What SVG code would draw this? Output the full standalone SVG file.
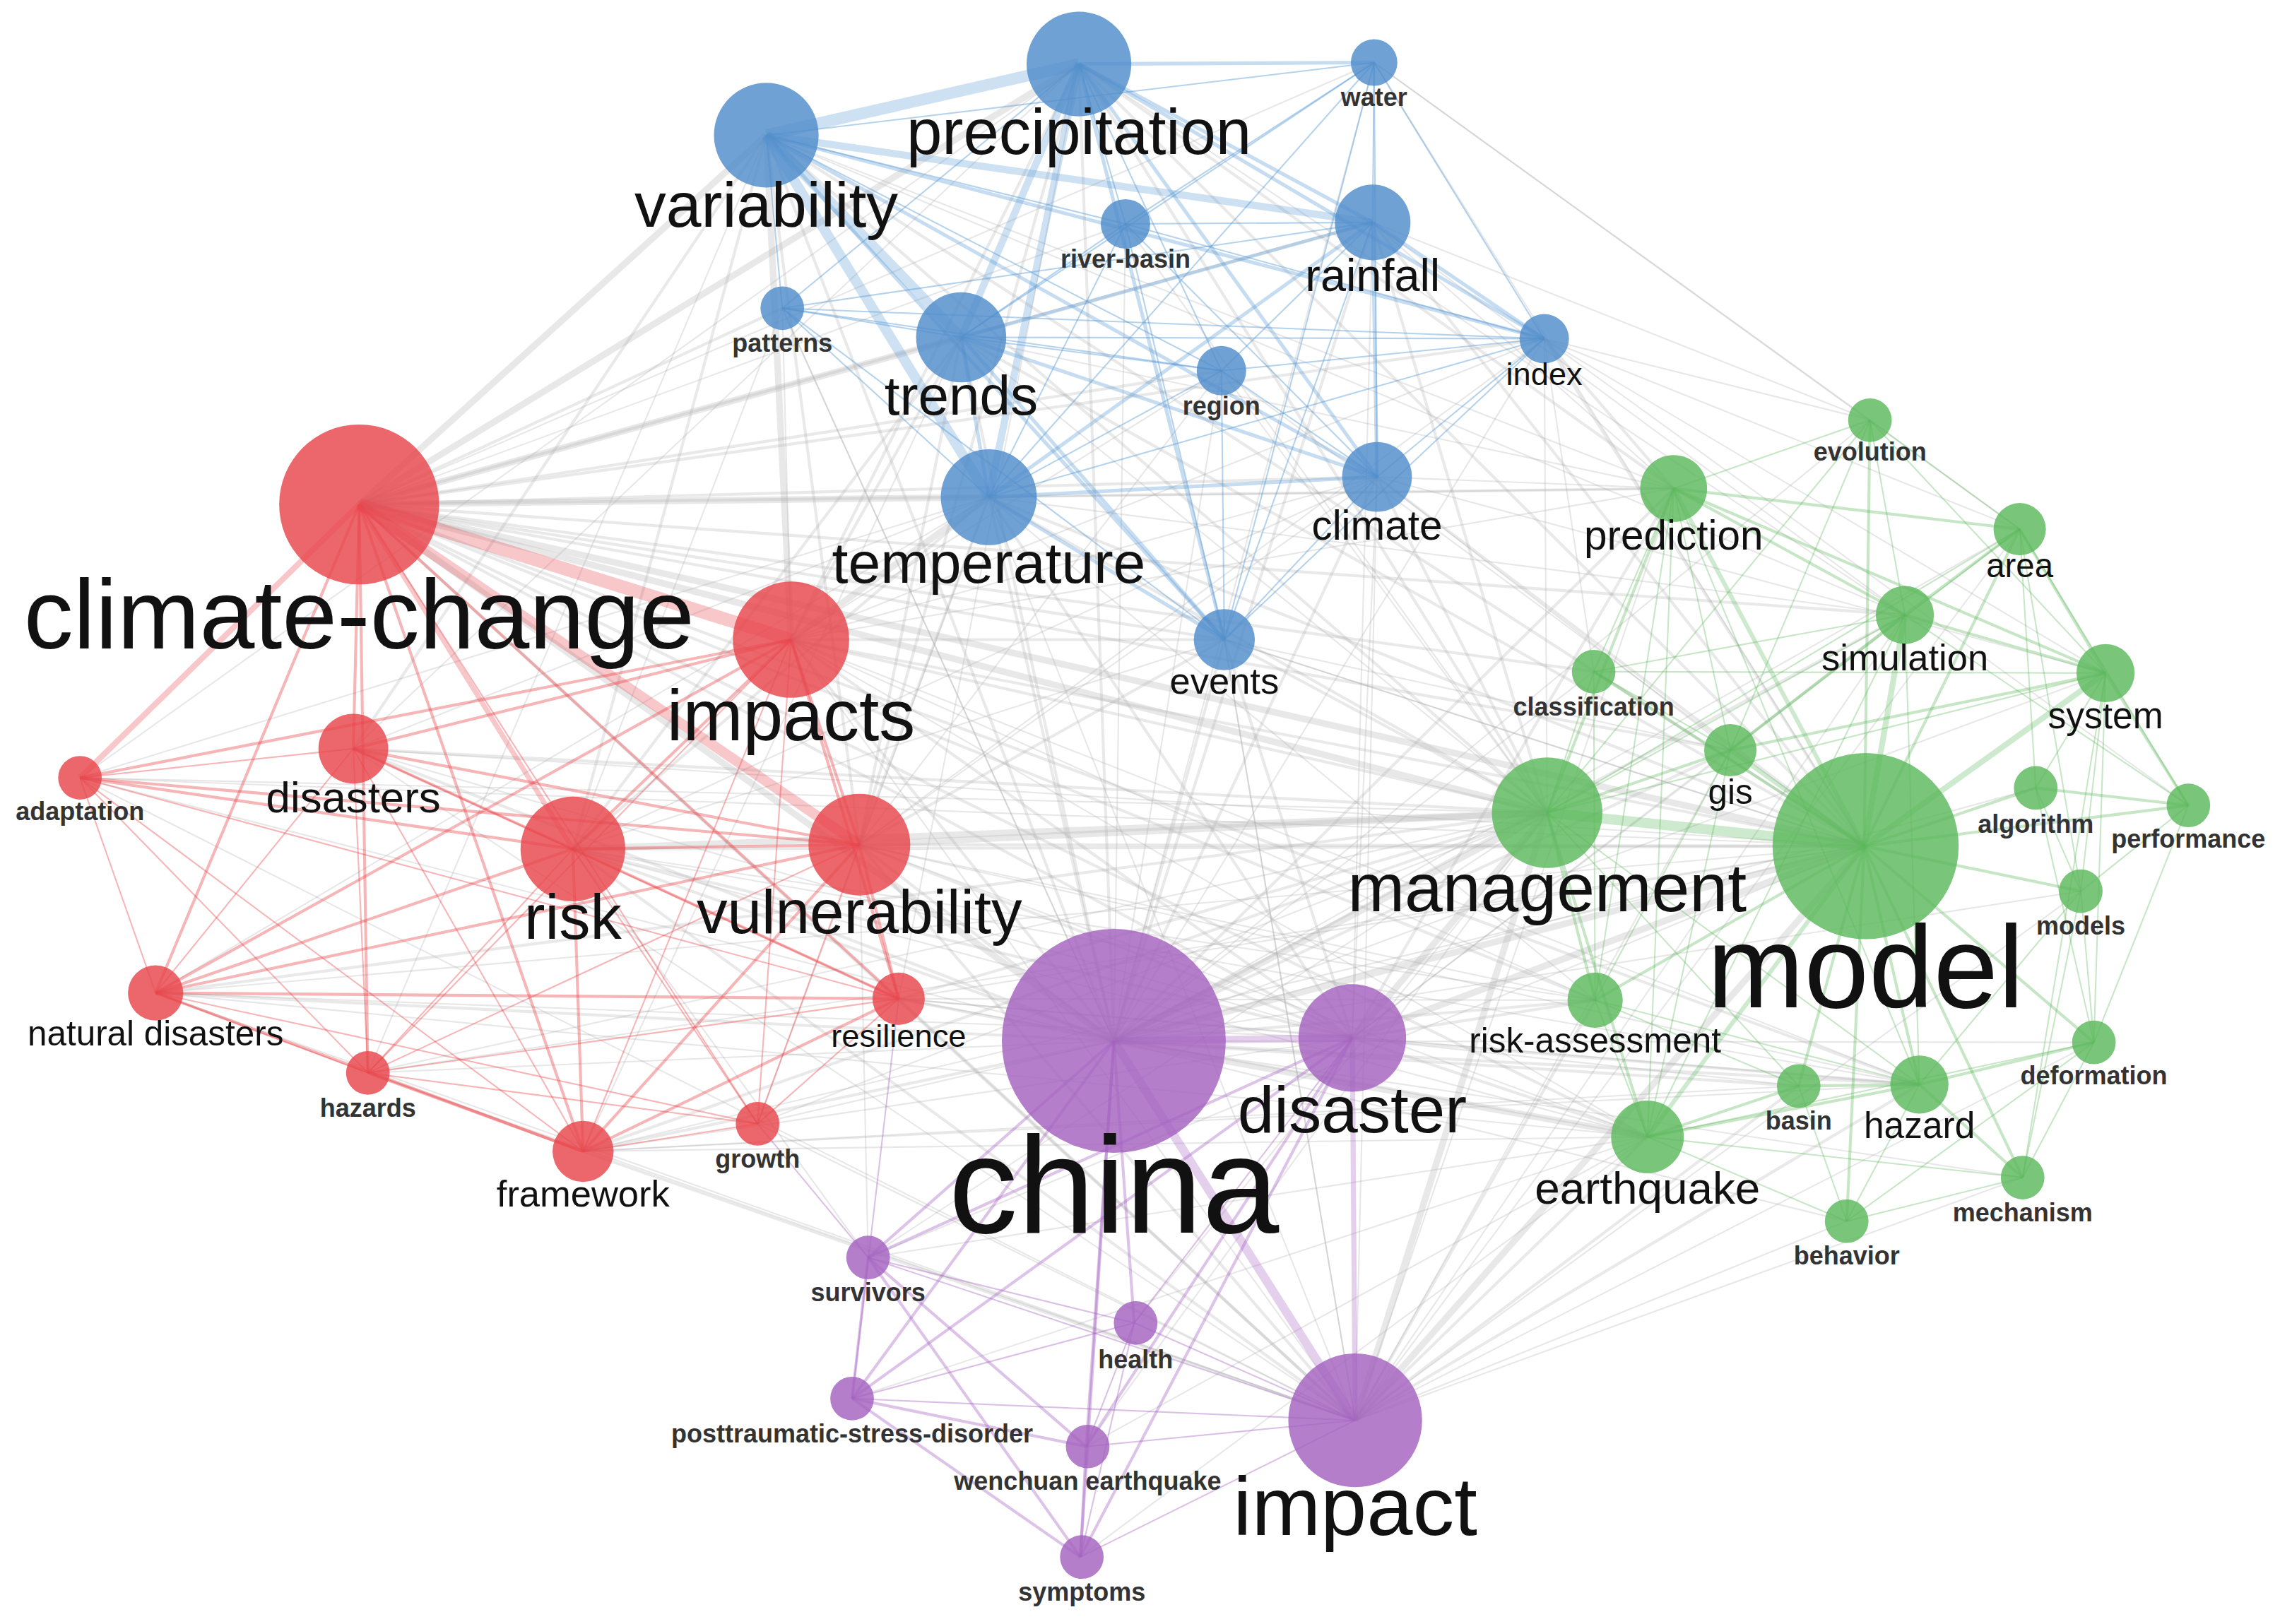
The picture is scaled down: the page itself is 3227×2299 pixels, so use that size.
<svg xmlns="http://www.w3.org/2000/svg" width="3227" height="2299" viewBox="0 0 3227 2299">
<style>
.e path{fill:none}
.gy1{stroke:#aaaaaa;stroke-width:1;stroke-opacity:.28}
.gy2{stroke:#aaaaaa;stroke-width:2;stroke-opacity:.26}
.gy3{stroke:#b4b4b4;stroke-width:4.5;stroke-opacity:.3}
.bl1{stroke:#5b9bd5;stroke-width:1;stroke-opacity:.45}
.bl2{stroke:#5b9bd5;stroke-width:2.5;stroke-opacity:.35}
.bl3{stroke:#5b9bd5;stroke-width:5;stroke-opacity:.3}
.rd1{stroke:#e8454c;stroke-width:1;stroke-opacity:.4}
.rd2{stroke:#e8454c;stroke-width:2;stroke-opacity:.4}
.rd3{stroke:#e8454c;stroke-width:5;stroke-opacity:.3}
.gr1{stroke:#5cb85c;stroke-width:1;stroke-opacity:.35}
.gr2{stroke:#5cb85c;stroke-width:2;stroke-opacity:.35}
.gr3{stroke:#5cb85c;stroke-width:4;stroke-opacity:.3}
.pu1{stroke:#a461c0;stroke-width:1;stroke-opacity:.4}
.pu2{stroke:#a461c0;stroke-width:2;stroke-opacity:.38}
.pu3{stroke:#a461c0;stroke-width:5;stroke-opacity:.3}
circle{fill-opacity:.82}
.b{fill:#4f8ccb}.r{fill:#e8454c}.g{fill:#5cb85c}.p{fill:#a461c0}
text{font-family:"Liberation Sans",Arial,sans-serif;text-anchor:middle;fill:#111}
.s{font-size:17.5px;font-weight:bold;fill:#333}
</style>
<rect width="3227" height="2299" fill="#ffffff"/>
<g transform="scale(2.05804)">
<g id="connectors" class="e">
<g class="gy1">
<path d="M766 716L1389 364"/><path d="M766 716L1448 463"/><path d="M766 716L1096 462"/><path d="M766 716L1286 289"/><path d="M766 716L1270 840"/><path d="M766 716L1391 810"/><path d="M766 716L1440 717"/><path d="M766 716L1431 613"/><path d="M766 716L1400 542"/><path d="M766 716L521 773"/><path d="M766 716L253 738"/><path d="M766 716L55 535"/><path d="M766 716L840 255"/><path d="M766 716L1062 233"/><path d="M766 716L538 212"/>
<path d="M930 714L1310 423"/><path d="M930 714L1237 747"/><path d="M930 714L1190 516"/><path d="M930 714L618 687"/><path d="M930 714L401 792"/><path d="M930 714L107 683"/><path d="M930 714L243 515"/><path d="M930 714L944 153"/><path d="M930 714L947 328"/>
<path d="M932 977L1151 336"/><path d="M932 977L1310 423"/><path d="M932 977L1270 840"/><path d="M932 977L1391 810"/><path d="M932 977L521 773"/><path d="M932 977L107 683"/><path d="M932 977L253 738"/><path d="M932 977L55 535"/><path d="M932 977L243 515"/><path d="M932 977L544 440"/><path d="M932 977L680 342"/><path d="M932 977L842 440"/><path d="M932 977L1190 516"/><path d="M932 977L1440 717"/><path d="M932 977L1431 613"/><path d="M932 977L1389 364"/>
<path d="M1064 559L521 773"/><path d="M1064 559L253 738"/><path d="M1064 559L55 535"/><path d="M1064 559L661 232"/><path d="M1064 559L840 255"/><path d="M1064 559L1062 233"/>
<path d="M1282 582L401 792"/><path d="M1282 582L618 687"/><path d="M1282 582L107 683"/><path d="M1282 582L243 515"/><path d="M1282 582L842 440"/><path d="M1282 582L840 255"/><path d="M1282 582L597 865"/><path d="M1282 582L253 738"/><path d="M1282 582L55 535"/>
<path d="M1133 782L597 865"/><path d="M1133 782L586 962"/><path d="M1133 782L747 995"/><path d="M1133 782L401 792"/><path d="M1133 782L618 687"/><path d="M1133 782L591 581"/><path d="M1133 782L394 584"/><path d="M1133 782L544 440"/><path d="M1133 782L107 683"/><path d="M1133 782L743 1071"/>
<path d="M1097 688L591 581"/><path d="M1097 688L394 584"/><path d="M1097 688L544 440"/><path d="M1097 688L680 342"/><path d="M1097 688L618 687"/>
<path d="M1320 746L591 581"/><path d="M1320 746L394 584"/><path d="M1320 746L544 440"/><path d="M1320 746L401 792"/><path d="M1320 746L618 687"/><path d="M1237 747L401 792"/>
<path d="M1151 336L680 342"/><path d="M1151 336L661 232"/><path d="M1151 336L527 93"/><path d="M1151 336L944 153"/><path d="M1151 336L947 328"/><path d="M1151 336L544 440"/>
<path d="M1310 423L680 342"/><path d="M1310 423L742 44"/><path d="M1310 423L527 93"/><path d="M1310 423L944 153"/>
<path d="M1286 289L1062 233"/><path d="M1286 289L945 43"/><path d="M1286 289L944 153"/><path d="M1389 364L1062 233"/><path d="M1389 364L945 43"/><path d="M1448 463L1062 233"/><path d="M1448 463L947 328"/><path d="M1190 516L947 328"/><path d="M1190 516L842 440"/><path d="M1096 462L1062 233"/><path d="M1505 554L1062 233"/>
<path d="M945 43L247 347"/><path d="M945 43L766 716"/><path d="M945 43L1282 582"/><path d="M774 154L766 716"/><path d="M774 154L247 347"/><path d="M774 154L1064 559"/>
<path d="M538 212L766 716"/><path d="M538 212L544 440"/><path d="M538 212L394 584"/><path d="M840 255L544 440"/><path d="M840 255L591 581"/><path d="M1062 233L544 440"/><path d="M1062 233L591 581"/>
<path d="M947 328L544 440"/><path d="M947 328L591 581"/><path d="M947 328L394 584"/><path d="M947 328L932 977"/><path d="M842 440L394 584"/><path d="M842 440L932 977"/><path d="M842 440L1282 582"/>
<path d="M597 865L1064 559"/><path d="M597 865L394 584"/><path d="M597 865L591 581"/><path d="M780 910L1064 559"/><path d="M747 995L1064 559"/>
<path d="M55 535L680 342"/><path d="M55 535L742 44"/><path d="M243 515L680 342"/><path d="M243 515L742 44"/><path d="M107 683L680 342"/><path d="M253 738L527 93"/><path d="M401 792L661 232"/><path d="M521 773L680 342"/><path d="M618 687L742 44"/>
</g>
<g class="gy2">
<path d="M247 347L944 153"/><path d="M247 347L947 328"/><path d="M247 347L842 440"/><path d="M247 347L538 212"/><path d="M247 347L840 255"/><path d="M247 347L1062 233"/><path d="M247 347L930 714"/><path d="M247 347L932 977"/><path d="M247 347L1151 336"/><path d="M247 347L1310 423"/><path d="M247 347L1133 782"/><path d="M247 347L1097 688"/><path d="M247 347L1320 746"/><path d="M247 347L1190 516"/><path d="M247 347L1096 462"/>
<path d="M527 93L766 716"/><path d="M527 93L394 584"/><path d="M527 93L591 581"/><path d="M527 93L243 515"/><path d="M527 93L1282 582"/><path d="M527 93L1064 559"/>
<path d="M742 44L766 716"/><path d="M742 44L544 440"/><path d="M742 44L591 581"/><path d="M742 44L1064 559"/><path d="M742 44L1282 582"/><path d="M742 44L1151 336"/>
<path d="M661 232L766 716"/><path d="M661 232L544 440"/><path d="M661 232L591 581"/><path d="M661 232L394 584"/><path d="M661 232L1282 582"/>
<path d="M680 342L766 716"/><path d="M680 342L591 581"/><path d="M680 342L394 584"/><path d="M680 342L1282 582"/><path d="M680 342L1064 559"/><path d="M680 342L930 714"/>
<path d="M944 153L766 716"/><path d="M944 153L1064 559"/><path d="M944 153L1282 582"/><path d="M947 328L766 716"/><path d="M947 328L1282 582"/><path d="M947 328L1064 559"/>
<path d="M842 440L766 716"/><path d="M842 440L544 440"/><path d="M842 440L591 581"/><path d="M842 440L1064 559"/><path d="M842 440L930 714"/><path d="M1062 233L1282 582"/><path d="M1062 233L1151 336"/>
<path d="M544 440L766 716"/><path d="M544 440L930 714"/><path d="M544 440L1282 582"/><path d="M544 440L1064 559"/>
<path d="M591 581L766 716"/><path d="M591 581L930 714"/><path d="M591 581L932 977"/><path d="M591 581L1282 582"/>
<path d="M394 584L766 716"/><path d="M394 584L930 714"/><path d="M394 584L932 977"/><path d="M394 584L1282 582"/>
<path d="M243 515L766 716"/><path d="M243 515L1064 559"/>
<path d="M766 716L1097 688"/><path d="M766 716L1320 746"/><path d="M766 716L1151 336"/><path d="M766 716L1310 423"/><path d="M766 716L1190 516"/><path d="M766 716L1237 747"/><path d="M766 716L618 687"/><path d="M766 716L401 792"/><path d="M766 716L107 683"/>
<path d="M930 714L1097 688"/><path d="M930 714L1133 782"/><path d="M930 714L1320 746"/><path d="M930 714L1151 336"/>
<path d="M932 977L1133 782"/><path d="M932 977L1097 688"/><path d="M932 977L1320 746"/><path d="M932 977L1237 747"/><path d="M932 977L618 687"/><path d="M932 977L401 792"/>
<path d="M1064 559L618 687"/><path d="M1064 559L401 792"/><path d="M1064 559L107 683"/>
</g>
<g class="gy3">
<path d="M247 347L527 93"/><path d="M247 347L661 232"/><path d="M247 347L680 342"/><path d="M247 347L766 716"/><path d="M247 347L1064 559"/><path d="M247 347L1282 582"/><path d="M247 347L742 44"/>
<path d="M766 716L1064 559"/><path d="M766 716L1282 582"/><path d="M932 977L1064 559"/><path d="M932 977L1282 582"/><path d="M766 716L1133 782"/>
<path d="M930 714L1064 559"/><path d="M930 714L1282 582"/><path d="M591 581L1064 559"/><path d="M394 584L1064 559"/><path d="M680 342L544 440"/><path d="M527 93L544 440"/>
</g>
<g class="bl1">
<path d="M527 93L945 43"/><path d="M527 93L774 154"/><path d="M527 93L538 212"/><path d="M527 93L840 255"/><path d="M742 44L774 154"/><path d="M742 44L538 212"/><path d="M742 44L840 255"/>
<path d="M945 43L944 153"/><path d="M945 43L1062 233"/><path d="M945 43L947 328"/><path d="M945 43L661 232"/><path d="M945 43L680 342"/><path d="M945 43L774 154"/><path d="M945 43L842 440"/>
<path d="M774 154L944 153"/><path d="M774 154L661 232"/><path d="M774 154L680 342"/><path d="M774 154L947 328"/><path d="M774 154L842 440"/><path d="M774 154L1062 233"/>
<path d="M944 153L840 255"/><path d="M944 153L538 212"/><path d="M944 153L842 440"/>
<path d="M538 212L661 232"/><path d="M538 212L680 342"/><path d="M538 212L840 255"/><path d="M538 212L1062 233"/><path d="M538 212L842 440"/>
<path d="M661 232L840 255"/><path d="M661 232L1062 233"/><path d="M840 255L680 342"/><path d="M840 255L947 328"/><path d="M840 255L1062 233"/><path d="M840 255L842 440"/>
<path d="M1062 233L680 342"/><path d="M1062 233L947 328"/><path d="M1062 233L842 440"/><path d="M947 328L842 440"/>
</g>
<g class="bl2">
<path d="M742 44L944 153"/><path d="M661 232L680 342"/><path d="M742 44L945 43"/><path d="M661 232L944 153"/><path d="M680 342L944 153"/><path d="M742 44L947 328"/><path d="M680 342L947 328"/><path d="M680 342L842 440"/><path d="M742 44L842 440"/><path d="M527 93L842 440"/><path d="M944 153L1062 233"/><path d="M527 93L947 328"/><path d="M661 232L947 328"/><path d="M944 153L947 328"/><path d="M661 232L842 440"/><path d="M527 93L1062 233"/><path d="M742 44L1062 233"/>
</g>
<g class="bl3">
<path d="M527 93L742 44" style="stroke-width:8"/><path d="M527 93L661 232" style="stroke-width:7"/><path d="M527 93L680 342" style="stroke-width:7"/><path d="M527 93L944 153"/><path d="M742 44L661 232"/><path d="M742 44L680 342"/>
</g>
<g class="rd1">
<path d="M247 347L521 773"/><path d="M55 535L243 515"/><path d="M55 535L107 683"/><path d="M55 535L253 738"/><path d="M55 535L401 792"/><path d="M243 515L107 683"/><path d="M243 515L253 738"/><path d="M243 515L401 792"/><path d="M243 515L618 687"/>
<path d="M394 584L253 738"/><path d="M394 584L521 773"/><path d="M591 581L253 738"/><path d="M591 581L521 773"/><path d="M544 440L253 738"/><path d="M544 440L401 792"/><path d="M544 440L521 773"/>
<path d="M107 683L253 738"/><path d="M107 683L521 773"/><path d="M253 738L618 687"/><path d="M521 773L618 687"/><path d="M521 773L401 792"/><path d="M253 738L521 773"/><path d="M55 535L618 687"/>
</g>
<g class="rd2">
<path d="M544 440L591 581"/><path d="M544 440L394 584"/><path d="M394 584L591 581"/><path d="M247 347L243 515"/><path d="M247 347L107 683"/><path d="M247 347L401 792"/><path d="M247 347L618 687"/><path d="M247 347L253 738"/>
<path d="M243 515L394 584"/><path d="M243 515L591 581"/><path d="M243 515L544 440"/><path d="M55 535L394 584"/><path d="M55 535L591 581"/><path d="M55 535L544 440"/>
<path d="M107 683L394 584"/><path d="M107 683L591 581"/><path d="M107 683L544 440"/><path d="M394 584L401 792"/><path d="M591 581L401 792"/><path d="M591 581L618 687"/><path d="M394 584L618 687"/>
<path d="M107 683L401 792"/><path d="M253 738L401 792"/><path d="M107 683L618 687"/><path d="M544 440L618 687"/><path d="M401 792L618 687"/>
</g>
<g class="rd3">
<path d="M247 347L544 440" style="stroke-width:9"/><path d="M247 347L591 581" style="stroke-width:7"/><path d="M247 347L55 535" style="stroke-width:4"/><path d="M247 347L394 584" style="stroke-width:3.5"/>
</g>
<g class="pu1">
<path d="M780 910L597 865"/><path d="M780 910L586 962"/><path d="M780 910L747 995"/><path d="M780 910L932 977"/><path d="M780 910L930 714"/><path d="M932 977L586 962"/><path d="M932 977L597 865"/><path d="M932 977L747 995"/><path d="M932 977L743 1071"/><path d="M780 910L743 1071"/><path d="M597 865L521 773"/><path d="M586 962L618 687"/>
</g>
<g class="pu2">
<path d="M766 716L597 865"/><path d="M766 716L747 995"/><path d="M766 716L780 910"/><path d="M766 716L743 1071"/><path d="M766 716L586 962"/><path d="M930 714L597 865"/><path d="M930 714L586 962"/><path d="M930 714L747 995"/><path d="M930 714L743 1071"/>
<path d="M597 865L586 962"/><path d="M597 865L743 1071"/><path d="M586 962L743 1071"/><path d="M586 962L747 995"/><path d="M747 995L743 1071"/><path d="M597 865L747 995"/>
</g>
<g class="pu3">
<path d="M766 716L930 714"/><path d="M766 716L932 977" style="stroke-width:6"/><path d="M930 714L932 977" style="stroke-width:3.5"/>
</g>
<g class="gr1">
<path d="M1286 289L1151 336"/><path d="M1286 289L1389 364"/><path d="M1286 289L1310 423"/><path d="M1286 289L1448 463"/><path d="M1286 289L1190 516"/><path d="M1286 289L1064 559"/>
<path d="M1151 336L1096 462"/><path d="M1151 336L1190 516"/><path d="M1151 336L1133 782"/><path d="M1151 336L1097 688"/><path d="M1151 336L1320 746"/>
<path d="M1389 364L1400 542"/><path d="M1389 364L1431 613"/><path d="M1389 364L1190 516"/><path d="M1389 364L1064 559"/>
<path d="M1310 423L1096 462"/><path d="M1310 423L1064 559"/><path d="M1310 423L1133 782"/><path d="M1310 423L1320 746"/>
<path d="M1096 462L1190 516"/><path d="M1096 462L1064 559"/><path d="M1096 462L1097 688"/><path d="M1096 462L1448 463"/>
<path d="M1448 463L1400 542"/><path d="M1448 463L1431 613"/><path d="M1448 463L1440 717"/><path d="M1448 463L1064 559"/>
<path d="M1190 516L1097 688"/><path d="M1190 516L1133 782"/><path d="M1064 559L1320 746"/><path d="M1064 559L1237 747"/>
<path d="M1400 542L1431 613"/><path d="M1400 542L1440 717"/><path d="M1505 554L1431 613"/><path d="M1505 554L1440 717"/><path d="M1431 613L1440 717"/><path d="M1431 613L1391 810"/><path d="M1431 613L1320 746"/>
<path d="M1097 688L1133 782"/><path d="M1097 688L1320 746"/><path d="M1097 688L1237 747"/><path d="M1440 717L1391 810"/><path d="M1440 717L1270 840"/>
<path d="M1237 747L1270 840"/><path d="M1320 746L1270 840"/><path d="M1391 810L1270 840"/><path d="M1133 782L1391 810"/><path d="M1133 782L1270 840"/><path d="M1391 810L1448 463"/><path d="M1133 782L1440 717"/><path d="M1505 554L1310 423"/><path d="M1505 554L1389 364"/>
</g>
<g class="gr2">
<path d="M1064 559L1190 516"/><path d="M1282 582L1389 364"/><path d="M1282 582L1400 542"/><path d="M1282 582L1505 554"/><path d="M1282 582L1431 613"/><path d="M1282 582L1320 746"/><path d="M1282 582L1237 747"/><path d="M1282 582L1097 688"/><path d="M1282 582L1440 717"/><path d="M1282 582L1096 462"/><path d="M1282 582L1286 289"/><path d="M1282 582L1391 810"/><path d="M1282 582L1270 840"/>
<path d="M1064 559L1151 336"/><path d="M1064 559L1097 688"/><path d="M1064 559L1133 782"/><path d="M1151 336L1389 364"/><path d="M1151 336L1310 423"/><path d="M1151 336L1448 463"/><path d="M1310 423L1389 364"/><path d="M1310 423L1448 463"/><path d="M1389 364L1448 463"/><path d="M1190 516L1448 463"/><path d="M1190 516L1310 423"/>
<path d="M1133 782L1320 746"/><path d="M1133 782L1237 747"/><path d="M1320 746L1237 747"/><path d="M1320 746L1440 717"/><path d="M1320 746L1391 810"/><path d="M1448 463L1505 554"/><path d="M1400 542L1505 554"/>
</g>
<g class="gr3">
<path d="M1064 559L1282 582" style="stroke-width:7"/><path d="M1282 582L1310 423"/><path d="M1282 582L1448 463"/><path d="M1282 582L1151 336" style="stroke-width:3"/><path d="M1282 582L1190 516" style="stroke-width:3"/><path d="M1282 582L1133 782" style="stroke-width:3"/>
</g>
</g>
<g id="nodes">
<g id="node-china"><circle class="p" cx="766" cy="716" r="77"/><text x="766" y="848" style="font-size:95px">china</text></g>
<g id="node-disaster"><circle class="p" cx="930" cy="714" r="37"/><text x="930" y="779" style="font-size:45px">disaster</text></g>
<g id="node-survivors"><circle class="p" cx="597" cy="865" r="15"/><text class="s" x="597" y="895">survivors</text></g>
<g id="node-health"><circle class="p" cx="781" cy="910" r="15"/><text class="s" x="781" y="941">health</text></g>
<g id="node-posttraumatic-stress-disorder"><circle class="p" cx="586" cy="962" r="15"/><text class="s" x="586" y="992">posttraumatic-stress-disorder</text></g>
<g id="node-wenchuan-earthquake"><circle class="p" cx="748" cy="995" r="15"/><text class="s" x="748" y="1025">wenchuan earthquake</text></g>
<g id="node-impact"><circle class="p" cx="932" cy="977" r="46"/><text x="932" y="1056" style="font-size:57px">impact</text></g>
<g id="node-symptoms"><circle class="p" cx="744" cy="1071" r="15"/><text class="s" x="744" y="1101">symptoms</text></g>
<g id="node-evolution"><circle class="g" cx="1286" cy="289" r="15"/><text class="s" x="1286" y="317">evolution</text></g>
<g id="node-prediction"><circle class="g" cx="1151" cy="336" r="23"/><text x="1151" y="378" style="font-size:28.4px">prediction</text></g>
<g id="node-area"><circle class="g" cx="1389" cy="364" r="18"/><text x="1389" y="397" style="font-size:23px">area</text></g>
<g id="node-simulation"><circle class="g" cx="1310" cy="423" r="20"/><text x="1310" y="461" style="font-size:25.5px">simulation</text></g>
<g id="node-classification"><circle class="g" cx="1096" cy="462" r="15"/><text class="s" x="1096" y="492">classification</text></g>
<g id="node-system"><circle class="g" cx="1448" cy="463" r="20"/><text x="1448" y="501" style="font-size:25px">system</text></g>
<g id="node-gis"><circle class="g" cx="1190" cy="516" r="18"/><text x="1190" y="553" style="font-size:24px">gis</text></g>
<g id="node-management"><circle class="g" cx="1064" cy="559" r="38"/><text x="1064" y="627" style="font-size:47px">management</text></g>
<g id="node-model"><circle class="g" cx="1283" cy="582" r="64"/><text x="1283" y="693" style="font-size:80px">model</text></g>
<g id="node-algorithm"><circle class="g" cx="1400" cy="542" r="15"/><text class="s" x="1400" y="573">algorithm</text></g>
<g id="node-performance"><circle class="g" cx="1505" cy="554" r="15"/><text class="s" x="1505" y="583">performance</text></g>
<g id="node-models"><circle class="g" cx="1431" cy="613" r="15"/><text class="s" x="1431" y="643">models</text></g>
<g id="node-risk-assessment"><circle class="g" cx="1097" cy="688" r="19"/><text x="1097" y="724" style="font-size:24px">risk-assessment</text></g>
<g id="node-deformation"><circle class="g" cx="1440" cy="717" r="15"/><text class="s" x="1440" y="746">deformation</text></g>
<g id="node-basin"><circle class="g" cx="1237" cy="747" r="15"/><text class="s" x="1237" y="777">basin</text></g>
<g id="node-hazard"><circle class="g" cx="1320" cy="746" r="20"/><text x="1320" y="783" style="font-size:25px">hazard</text></g>
<g id="node-earthquake"><circle class="g" cx="1133" cy="782" r="25"/><text x="1133" y="828" style="font-size:31px">earthquake</text></g>
<g id="node-mechanism"><circle class="g" cx="1391" cy="810" r="15"/><text class="s" x="1391" y="840">mechanism</text></g>
<g id="node-behavior"><circle class="g" cx="1270" cy="840" r="15"/><text class="s" x="1270" y="870">behavior</text></g>
<g id="node-climate-change"><circle class="r" cx="247" cy="347" r="55"/><text x="247" y="446" style="font-size:68px">climate-change</text></g>
<g id="node-impacts"><circle class="r" cx="544" cy="440" r="40"/><text x="544" y="509" style="font-size:49.6px">impacts</text></g>
<g id="node-disasters"><circle class="r" cx="243" cy="515" r="24"/><text x="243" y="559" style="font-size:30px">disasters</text></g>
<g id="node-adaptation"><circle class="r" cx="55" cy="535" r="15"/><text class="s" x="55" y="564">adaptation</text></g>
<g id="node-risk"><circle class="r" cx="394" cy="584" r="36"/><text x="394" y="646" style="font-size:43px">risk</text></g>
<g id="node-vulnerability"><circle class="r" cx="591" cy="581" r="35"/><text x="591" y="642" style="font-size:42.4px">vulnerability</text></g>
<g id="node-natural-disasters"><circle class="r" cx="107" cy="683" r="19"/><text x="107" y="719" style="font-size:24px">natural disasters</text></g>
<g id="node-resilience"><circle class="r" cx="618" cy="687" r="18"/><text x="618" y="720" style="font-size:22px">resilience</text></g>
<g id="node-hazards"><circle class="r" cx="253" cy="738" r="15"/><text class="s" x="253" y="768">hazards</text></g>
<g id="node-growth"><circle class="r" cx="521" cy="773" r="15"/><text class="s" x="521" y="803">growth</text></g>
<g id="node-framework"><circle class="r" cx="401" cy="792" r="21"/><text x="401" y="830" style="font-size:25.5px">framework</text></g>
<g id="node-precipitation"><circle class="b" cx="742" cy="44" r="36"/><text x="742" y="106" style="font-size:44px">precipitation</text></g>
<g id="node-variability"><circle class="b" cx="527" cy="93" r="36"/><text x="527" y="156" style="font-size:43.5px">variability</text></g>
<g id="node-water"><circle class="b" cx="945" cy="43" r="16"/><text class="s" x="945" y="73">water</text></g>
<g id="node-river-basin"><circle class="b" cx="774" cy="154" r="17"/><text class="s" x="774" y="184">river-basin</text></g>
<g id="node-rainfall"><circle class="b" cx="944" cy="153" r="26"/><text x="944" y="200" style="font-size:31.5px">rainfall</text></g>
<g id="node-patterns"><circle class="b" cx="538" cy="212" r="15"/><text class="s" x="538" y="242">patterns</text></g>
<g id="node-trends"><circle class="b" cx="661" cy="232" r="31"/><text x="661" y="285" style="font-size:38px">trends</text></g>
<g id="node-region"><circle class="b" cx="840" cy="255" r="17"/><text class="s" x="840" y="285">region</text></g>
<g id="node-index"><circle class="b" cx="1062" cy="233" r="17"/><text x="1062" y="265" style="font-size:22px">index</text></g>
<g id="node-temperature"><circle class="b" cx="680" cy="342" r="33"/><text x="680" y="401" style="font-size:40px">temperature</text></g>
<g id="node-climate"><circle class="b" cx="947" cy="328" r="24"/><text x="947" y="371" style="font-size:28.4px">climate</text></g>
<g id="node-events"><circle class="b" cx="842" cy="440" r="21"/><text x="842" y="477" style="font-size:25.5px">events</text></g>
</g>
</g>
</svg>
